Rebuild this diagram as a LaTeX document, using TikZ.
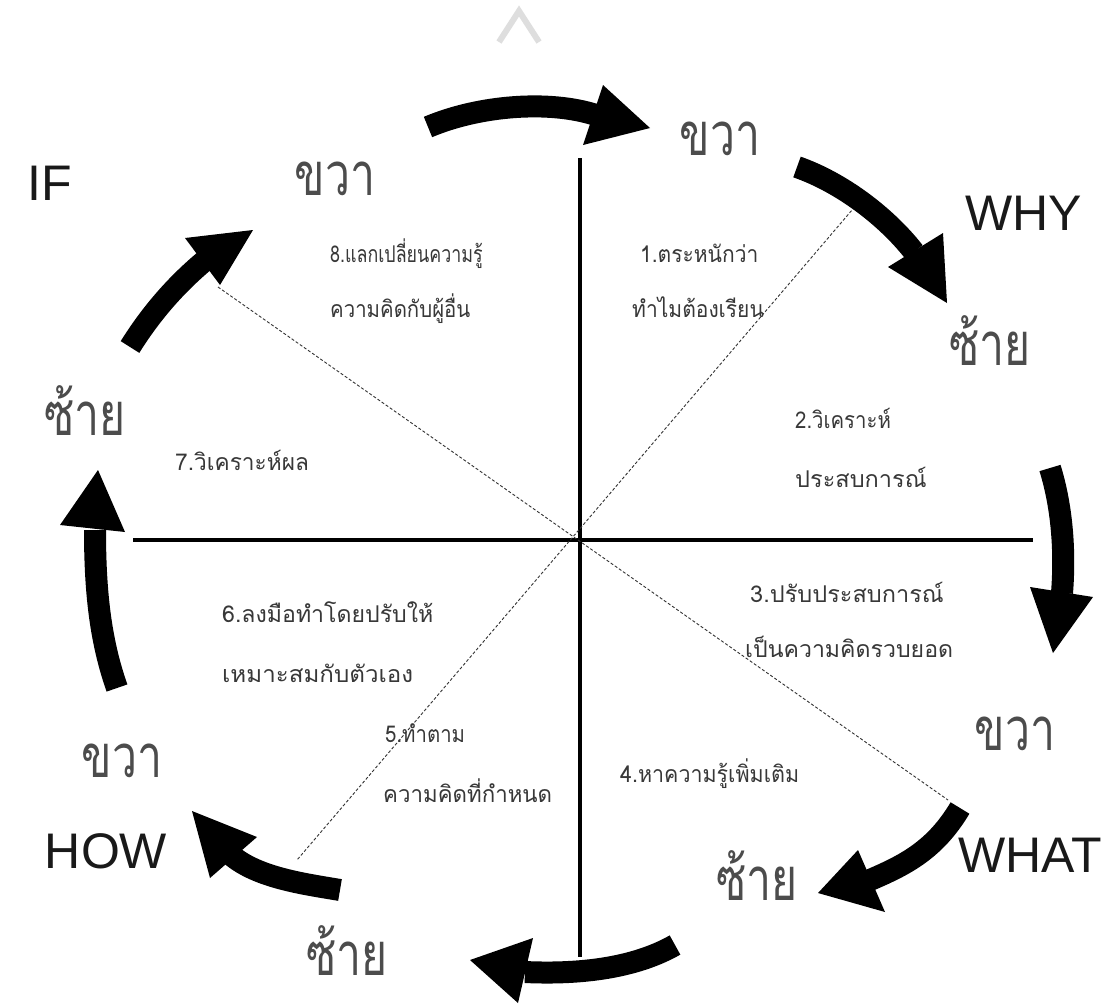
\documentclass[tikz,border=0pt]{standalone}
\usepackage{fontspec}
\setmainfont{Liberation Sans}
\newfontfamily\thai[Script=Thai]{Loma}
\newcommand{\bigw}[1]{\scalebox{0.97}[1.3]{#1}}
\newcommand{\smw}[2]{\scalebox{#1}[1.1]{#2}}
\begin{document}
\begin{tikzpicture}[x=1pt,y=-1pt,
  shaft/.style={line width=22pt,line cap=butt,black},
  head/.style={fill=black,draw=none},
  axis/.style={line width=4pt,black},
  diag/.style={line width=0.9pt,dash pattern=on 3pt off 2pt,black!80},
  big/.style={anchor=base,text=black!70,font=\thai\fontsize{46}{50}\selectfont,inner sep=0pt},
  small/.style={anchor=base west,text=black!78,font=\thai\fontsize{21}{24}\selectfont,inner sep=0pt},
  latin/.style={anchor=base,text=black!90,font=\fontsize{50}{54}\selectfont,inner sep=0pt}]
\useasboundingbox (0,0) rectangle (1111,1005);
\fill[white] (0,0) rectangle (1111,1005);
% watermark chevron
\draw[line width=6pt,black!13] (499,42) -- (519,11) -- (539,42);
% axes
\coordinate (C) at (580,540);
\coordinate (T) at (580,158);
\coordinate (B) at (580,957);
\coordinate (L) at (133,540);
\coordinate (R) at (1033,540);
\draw[axis] (T) -- (B);
\draw[axis] (L) -- (R);
% diagonals
\coordinate (D1a) at (858,203);
\coordinate (D1b) at (297,860);
\coordinate (D2a) at (218,287);
\coordinate (D2b) at (948,800);
\draw[diag] (D1a) -- (D1b);
\draw[diag] (D2a) -- (D2b);
% arrows
% 1 top
\draw[shaft] (428,127) .. controls (480,105) and (550,100) .. (596,115);
\fill[head] (603,85) -- (650,128) -- (583,145) -- cycle;
% 2 top right
\draw[shaft] (797,167) .. controls (840,182) and (885,215) .. (914,252);
\fill[head] (888,267) -- (943,233) -- (947,303) -- cycle;
% 3 right
\draw[shaft] (1050,468) .. controls (1063,510) and (1065,555) .. (1062,593);
\fill[head] (1030,587) -- (1093,597) -- (1053,653) -- cycle;
% 4 lower right
\draw[shaft] (960,808) .. controls (935,850) and (905,865) .. (870,880);
\fill[head] (858,850) -- (885,912) -- (818,893) -- cycle;
% 5 bottom
\draw[shaft] (675,945) .. controls (640,965) and (590,975) .. (525,972);
\fill[head] (533,938) -- (518,1003) -- (470,960) -- cycle;
% 6 bottom left
\draw[shaft] (340,890) .. controls (305,884) and (258,878) .. (231,855);
\fill[head] (257,837) -- (210,878) -- (192,811) -- cycle;
% 7 left
\draw[shaft] (117,688) .. controls (100,640) and (95,590) .. (95,530);
\fill[head] (60,525) -- (125,532) -- (98,470) -- cycle;
% 8 upper left
\draw[shaft] (130,347) .. controls (150,315) and (175,285) .. (208,258);
\fill[head] (185,238) -- (253,230) -- (220,285) -- cycle;
% big words
\node[big] (w1) at (335,195) {\bigw{ขวา}};
\node[big] (w2) at (720,155) {\bigw{ขวา}};
\node[big] (w3) at (990,365) {\bigw{ซ้าย}};
\node[big] (w4) at (1015,750) {\bigw{ขวา}};
\node[big] (w5) at (757,900) {\bigw{ซ้าย}};
\node[big] (w6) at (347,975) {\bigw{ซ้าย}};
\node[big] (w7) at (122,777) {\bigw{ขวา}};
\node[big] (w8) at (85,435) {\bigw{ซ้าย}};
% latin
\node[latin] (if) at (50,200) {IF};
\node[latin] (why) at (1024,230) {WHY};
\node[latin] (what) at (1030,872) {WHAT};
\node[latin] (how) at (106,868) {HOW};
% small texts
\node[small] (s1a) at (640,262) {\smw{1.0}{1.ตระหนักว่า}};
\node[small] (s1b) at (632,317) {\smw{1.0}{ทำไมต้องเรียน}};
\node[small] (s8a) at (330,262) {\smw{0.85}{8.แลกเปลี่ยนความรู้}};
\node[small] (s8b) at (330,317) {\smw{0.97}{ความคิดกับผู้อื่น}};
\node[small] (s7) at (175,470) {\smw{1.08}{7.วิเคราะห์ผล}};
\node[small] (s2a) at (795,428) {\smw{0.97}{2.วิเคราะห์}};
\node[small] (s2b) at (795,487) {\smw{1.12}{ประสบการณ์}};
\node[small] (s3a) at (750,602) {\smw{1.12}{3.ปรับประสบการณ์}};
\node[small] (s3b) at (745,657) {\smw{1.1}{เป็นความคิดรวบยอด}};
\node[small] (s4) at (620,782) {\smw{1.02}{4.หาความรู้เพิ่มเติม}};
\node[small] (s5a) at (385,742) {\smw{0.97}{5.ทำตาม}};
\node[small] (s5b) at (383,802) {\smw{1.06}{ความคิดที่กำหนด}};
\node[small] (s6a) at (222,622) {\smw{1.1}{6.ลงมือทำโดยปรับให้}};
\node[small] (s6b) at (222,682) {\smw{1.15}{เหมาะสมกับตัวเอง}};
\end{tikzpicture}
\end{document}
